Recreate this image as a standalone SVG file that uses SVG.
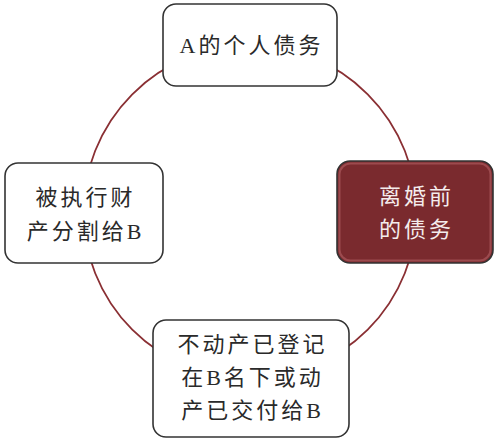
<svg xmlns="http://www.w3.org/2000/svg" width="496" height="448" viewBox="0 0 496 448">
<style>
.box{fill:#ffffff;stroke:#333333;stroke-width:1.6}
.hl{fill:#7a2a2e;stroke:#333333;stroke-width:1.6}
.t{font-family:"Liberation Serif","Noto Sans CJK SC",serif;font-size:22px;fill:#2a2a2a;text-anchor:middle;letter-spacing:3px;dominant-baseline:central}
.tw{fill:#f4ecec}
</style>
<rect width="496" height="448" fill="#ffffff"/>
<g id="connectors">
<circle cx="250" cy="212" r="166.5" fill="none" stroke="#8a2f33" stroke-width="1.8"/>
</g>
<g id="n1">
<rect class="box" x="163" y="4" width="174" height="82" rx="13"/>
<text class="t" x="251.5" y="45">A的个人债务</text>
</g>
<g id="n2">
<rect class="hl" x="337" y="161" width="156" height="102" rx="13"/>
<rect x="339.5" y="163.5" width="151" height="97" rx="11" fill="none" stroke="#9c4a4e" stroke-width="2"/>
<text class="t tw" x="416.5" y="196">离婚前</text>
<text class="t tw" x="416.5" y="229">的债务</text>
</g>
<g id="n3">
<rect class="box" x="153" y="320" width="196" height="117" rx="13"/>
<text class="t" x="252.5" y="344">不动产已登记</text>
<text class="t" x="252.5" y="377">在B名下或动</text>
<text class="t" x="252.5" y="410">产已交付给B</text>
</g>
<g id="n4">
<rect class="box" x="5" y="163" width="158" height="100" rx="13"/>
<text class="t" x="85.5" y="197">被执行财</text>
<text class="t" x="85.5" y="231">产分割给B</text>
</g>
</svg>
